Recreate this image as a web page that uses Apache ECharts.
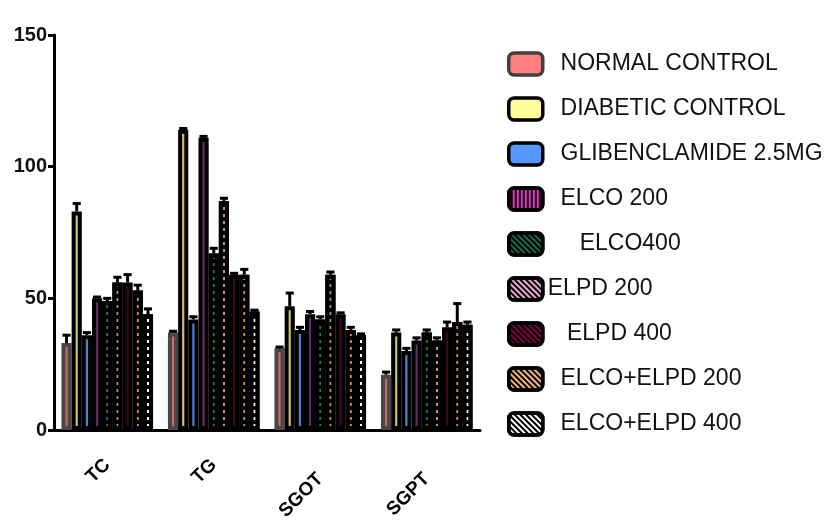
<!DOCTYPE html>
<html><head><meta charset="utf-8">
<script src="https://cdn.jsdelivr.net/npm/echarts@6/dist/echarts.min.js"></script>
<style>html,body{margin:0;padding:0;background:#fff}#c{width:832px;height:530px}</style>
</head><body><div id="c"></div>
<script>
const categories = ['TC', 'TG', 'SGOT', 'SGPT'];
const yTicks = [0, 50, 100, 150];
const seriesNames = ['NORMAL CONTROL', 'DIABETIC CONTROL', 'GLIBENCLAMIDE 2.5MG', 'ELCO 200', 'ELCO400', 'ELPD 200', 'ELPD 400', 'ELCO+ELPD 200', 'ELCO+ELPD 400'];
const normalControl   = [33, 37, 31, 21];
const diabeticControl = [83, 114, 47, 37];
const glibenclamide   = [36, 42, 38, 30];
const elco200         = [50, 111, 44, 34];
const elco400         = [49, 67, 42, 37];
const elpd200         = [56, 87, 59, 34];
const elpd400         = [56, 59, 44, 39];
const elcoElpd200     = [53, 59, 38, 41];
const elcoElpd400     = [44, 45, 36, 40];
const errNormal   = [3, 0.5, 0.5, 1];
const errDiabetic = [3, 0.5, 5, 1];
const errGlib     = [1, 1, 1, 1];
const errElco200  = [0.5, 0.5, 1, 1];
const errElco400  = [1, 2, 1, 1];
const errElpd200  = [2, 1, 1, 1];
const errElpd400  = [3, 0.5, 0.5, 2];
const errEE200    = [2, 2, 1, 7];
const errEE400    = [2, 0.5, 0.5, 1];

const values = [normalControl, diabeticControl, glibenclamide, elco200, elco400, elpd200, elpd400, elcoElpd200, elcoElpd400];
const errors = [errNormal, errDiabetic, errGlib, errElco200, errElco400, errElpd200, errElpd400, errEE200, errEE400];

const stripeColors = ['#d06868', '#c8c468', '#4a84d8', '#6a2a62', '#1f8050', '#b890a8', '#3a0a1a', '#d09850', '#ffffff'];
const legendColors = ['#ff7f7f', '#ffff99', '#5599ff', '#ee33cc', '#1a6a4a', '#f0a8d8', '#800040', '#f4b878', '#ffffff'];
const dashed = [false, false, false, false, true, true, false, true, true];
const legendPad = {'ELCO400': '     ', 'ELPD 200': '', 'ELPD 400': '   '};

const GAP = 0.14;
const dashDecal = {symbol: 'rect', symbolSize: 1, dashArrayX: [1, 0], dashArrayY: [4, 3], color: '#000', rotation: 0};

const series = seriesNames.map((name, i) => ({
  name, type: 'bar', data: values[i],
  barGap: '0%', barCategoryGap: (GAP * 100) + '%',
  itemStyle: Object.assign({color: stripeColors[i], borderColor: i === 0 ? '#474747' : '#000', borderWidth: 4},
    dashed[i] ? {decal: dashDecal} : {}),
  emphasis: {disabled: true}
}));

const errData = [];
values.forEach((arr, si) => arr.forEach((v, ci) => errData.push([ci, v, errors[si][ci], si])));
series.push({
  type: 'custom', name: 'err', data: errData, z: 5, silent: true,
  renderItem: function (params, api) {
    const ci = api.value(0), v = api.value(1), e = api.value(2), si = api.value(3);
    const base = api.coord([ci, v]);
    const top = api.coord([ci, v + e]);
    const band = api.size([1, 0])[0];
    const total = band * (1 - GAP);
    const bw = total / 9;
    const x = base[0] - total / 2 + bw * (si + 0.5);
    const cw = bw * 0.4;
    return {type: 'group', children: [
      {type: 'line', shape: {x1: x, y1: base[1], x2: x, y2: top[1]}, style: {stroke: '#000', lineWidth: 3}},
      {type: 'line', shape: {x1: x - cw, y1: top[1], x2: x + cw, y2: top[1]}, style: {stroke: '#000', lineWidth: 3}}
    ]};
  }
});

const legendData = seriesNames.map((name, i) => ({
  name, icon: 'roundRect',
  itemStyle: Object.assign({color: legendColors[i], borderColor: i === 0 ? '#404040' : '#000', borderWidth: 3.5},
    dashed[i] || i === 3 || i === 6 ? {decal: {symbol: 'rect', symbolSize: 1, dashArrayX: [1, 0], dashArrayY: [2, 2], color: '#000', rotation: i === 3 ? Math.PI / 2 : Math.PI / 4}} : {})
}));

const chart = echarts.init(document.getElementById('c'));
chart.setOption({
  animation: false,
  backgroundColor: '#fff',
  grid: {left: 54, right: 352, top: 35, bottom: 100, containLabel: false},
  legend: {
    orient: 'vertical', left: 502, top: 46, itemWidth: 34, itemHeight: 22, itemGap: 19,
    data: legendData, selectedMode: false,
    formatter: name => (legendPad[name] !== undefined ? legendPad[name] : '  ') + name,
    textStyle: {fontFamily: 'Liberation Sans, Arial, sans-serif', fontSize: 23, lineHeight: 26, color: '#111'}
  },
  xAxis: {
    type: 'category', data: categories,
    axisLine: {lineStyle: {color: '#000', width: 3}},
    axisTick: {alignWithLabel: true, length: 8, lineStyle: {color: '#000', width: 3}},
    axisLabel: {rotate: 45, margin: 32, fontSize: 19, fontWeight: 'bold', color: '#000', fontFamily: 'Liberation Sans, Arial, sans-serif', interval: 0,
      formatter: v => v.length > 2 ? '{b|' + v + '}' : '{a|' + v + '}',
      rich: {a: {fontSize: 19, fontWeight: 'bold', color: '#000'}, b: {fontSize: 19, fontWeight: 'bold', color: '#000', padding: [20, 10, 0, 0]}}}
  },
  yAxis: {
    type: 'value', min: 0, max: 150, interval: 50,
    axisLine: {show: true, lineStyle: {color: '#000', width: 3}},
    axisTick: {show: true, length: 6, lineStyle: {color: '#000', width: 3}},
    splitLine: {show: false},
    axisLabel: {margin: 7, fontSize: 20, fontWeight: 'bold', color: '#111', fontFamily: 'Liberation Sans, Arial, sans-serif',
      formatter: v => yTicks.indexOf(v) >= 0 ? String(v) : ''}
  },
  series
});
</script></body></html>
